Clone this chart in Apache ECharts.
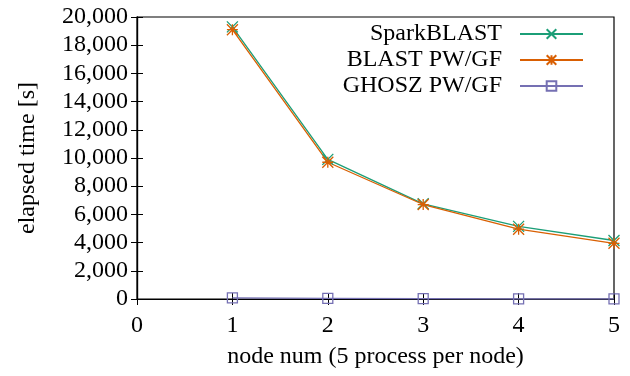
<!DOCTYPE html>
<html>
<head>
<meta charset="utf-8">
<script src="https://cdn.jsdelivr.net/npm/echarts@6/dist/echarts.min.js"></script>
<style>
html,body{margin:0;padding:0;background:#fff;}
#c{width:630px;height:376px;}
</style>
</head>
<body>
<div id="c"></div>
<script>
const nodes = [1, 2, 3, 4, 5];
const sparkBlast = [19300, 9900, 6750, 5150, 4150];
const blastPwGf = [19100, 9700, 6700, 4950, 3950];
const ghoszPwGf = [80, 40, 20, 15, 10];
const seriesNames = ['SparkBLAST', 'BLAST PW/GF', 'GHOSZ PW/GF'];
const colors = ['#1b9e77', '#d95f02', '#7570b3'];
const FONT = "'Liberation Serif', 'DejaVu Serif', serif";

const symX = 'path://M0,0L10,10M10,0L0,10';
const symStar = 'path://M0,0L10,10M10,0L0,10M5,0L5,10M0,5L10,5';
const symSq = 'path://M0,0L10,0L10,10L0,10Z';

function pairs(vals){ return nodes.map((n,i)=>[n, vals[i]]); }

function mk(name, vals, color, sym, size){
  return {
    name: name, type: 'line', data: pairs(vals),
    symbol: sym, symbolSize: size, showSymbol: true,
    clip: false,
    lineStyle: {color: color, width: 1.3},
    itemStyle: {color: 'rgba(0,0,0,0)', borderColor: color, borderWidth: 1.3},
    emphasis: {disabled: true},
    animation: false
  };
}

const chart = echarts.init(document.getElementById('c'), null, {renderer: 'canvas'});
chart.setOption({
  animation: false,
  backgroundColor: '#fff',
  textStyle: {fontFamily: FONT},
  grid: {left: 137, right: 16, top: 17, bottom: 77, show: true, borderColor: '#000', borderWidth: 1.2},
  legend: {
    right: 46, top: 22, orient: 'vertical', align: 'right', padding: 0,
    itemWidth: 63, itemHeight: 12, itemGap: 2,
    textStyle: {fontFamily: FONT, fontSize: 24, color: '#000', padding: [0, 13, 0, 0]},
    data: seriesNames
  },
  xAxis: [{
    type: 'value', min: 0, max: 5, interval: 1,
    name: 'node num (5 process per node)', nameLocation: 'middle', nameGap: 46,
    nameTextStyle: {fontFamily: FONT, fontSize: 24, color: '#000'},
    axisLine: {show: true, lineStyle: {color: '#000', width: 1.2}},
    axisTick: {show: true, inside: true, length: 6, lineStyle: {color: '#000'}},
    axisLabel: {fontFamily: FONT, fontSize: 24, color: '#000', margin: 15},
    splitLine: {show: false}
  },{
    type: 'value', min: 0, max: 5, interval: 1, position: 'top',
    axisLine: {show: true, lineStyle: {color: '#000', width: 1.2}},
    axisTick: {show: true, inside: true, length: 6, lineStyle: {color: '#000'}},
    axisLabel: {show: false}, splitLine: {show: false}
  }],
  yAxis: [{
    type: 'value', min: 0, max: 20000, interval: 2000,
    name: 'elapsed time [s]', nameLocation: 'middle', nameGap: 97,
    nameTextStyle: {fontFamily: FONT, fontSize: 24, color: '#000'},
    axisLine: {show: true, lineStyle: {color: '#000', width: 1.2}},
    axisTick: {show: true, inside: true, length: 6, lineStyle: {color: '#000'}},
    axisLabel: {fontFamily: FONT, fontSize: 24, color: '#000', margin: 9,
      formatter: v => v.toLocaleString('en-US')},
    splitLine: {show: false}
  },{
    type: 'value', min: 0, max: 20000, interval: 2000, position: 'right',
    axisLine: {show: true, lineStyle: {color: '#000', width: 1.2}},
    axisTick: {show: true, inside: true, length: 6, lineStyle: {color: '#000'}},
    axisLabel: {show: false}, splitLine: {show: false}
  }],
  series: [
    mk(seriesNames[0], sparkBlast, colors[0], symX, 11),
    mk(seriesNames[1], blastPwGf, colors[1], symStar, 11),
    mk(seriesNames[2], ghoszPwGf, colors[2], symSq, 10)
  ]
});
</script>
</body>
</html>
